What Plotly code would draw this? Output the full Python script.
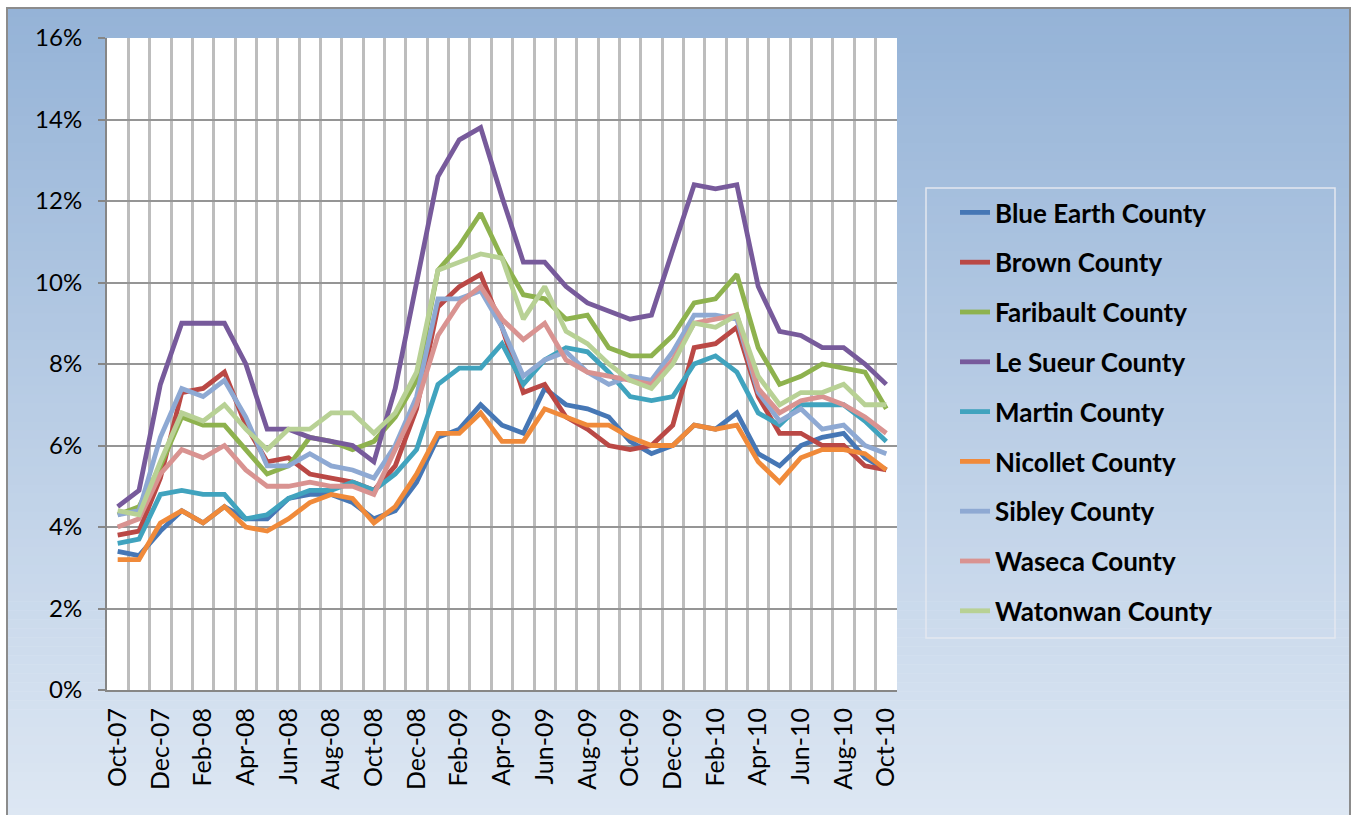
import plotly.graph_objects as go

# Monthly unemployment rate (%) by county, Oct 2007 - Oct 2010
months = [
    "Oct-07", "Nov-07", "Dec-07", "Jan-08", "Feb-08", "Mar-08", "Apr-08", "May-08", "Jun-08",
    "Jul-08", "Aug-08", "Sep-08", "Oct-08", "Nov-08", "Dec-08", "Jan-09", "Feb-09", "Mar-09",
    "Apr-09", "May-09", "Jun-09", "Jul-09", "Aug-09", "Sep-09", "Oct-09", "Nov-09", "Dec-09",
    "Jan-10", "Feb-10", "Mar-10", "Apr-10", "May-10", "Jun-10", "Jul-10", "Aug-10", "Sep-10",
    "Oct-10",
]

blue_earth = [3.4, 3.3, 3.9, 4.4, 4.1, 4.5, 4.2, 4.2, 4.7, 4.8, 4.8, 4.6, 4.2, 4.4, 5.1, 6.2, 6.4, 7.0, 6.5,
              6.3, 7.4, 7.0, 6.9, 6.7, 6.1, 5.8, 6.0, 6.5, 6.4, 6.8, 5.8, 5.5, 6.0, 6.2, 6.3, 5.7, 5.4]
brown = [3.8, 3.9, 5.2, 7.3, 7.4, 7.8, 6.5, 5.6, 5.7, 5.3, 5.2, 5.1, 4.9, 5.5, 6.9, 9.4, 9.9, 10.2, 8.9,
         7.3, 7.5, 6.7, 6.4, 6.0, 5.9, 6.0, 6.5, 8.4, 8.5, 8.9, 7.2, 6.3, 6.3, 6.0, 6.0, 5.5, 5.4]
faribault = [4.3, 4.5, 5.5, 6.7, 6.5, 6.5, 5.9, 5.3, 5.5, 6.2, 6.1, 5.9, 6.1, 6.7, 7.6, 10.3, 10.9, 11.7, 10.6,
             9.7, 9.6, 9.1, 9.2, 8.4, 8.2, 8.2, 8.7, 9.5, 9.6, 10.2, 8.4, 7.5, 7.7, 8.0, 7.9, 7.8, 6.9]
le_sueur = [4.5, 4.9, 7.5, 9.0, 9.0, 9.0, 8.0, 6.4, 6.4, 6.2, 6.1, 6.0, 5.6, 7.4, 10.0, 12.6, 13.5, 13.8, 12.1,
            10.5, 10.5, 9.9, 9.5, 9.3, 9.1, 9.2, 10.8, 12.4, 12.3, 12.4, 9.9, 8.8, 8.7, 8.4, 8.4, 8.0, 7.5]
martin = [3.6, 3.7, 4.8, 4.9, 4.8, 4.8, 4.2, 4.3, 4.7, 4.9, 4.9, 5.1, 4.9, 5.3, 5.9, 7.5, 7.9, 7.9, 8.5,
          7.5, 8.1, 8.4, 8.3, 7.8, 7.2, 7.1, 7.2, 8.0, 8.2, 7.8, 6.8, 6.5, 7.0, 7.0, 7.0, 6.6, 6.1]
nicollet = [3.2, 3.2, 4.1, 4.4, 4.1, 4.5, 4.0, 3.9, 4.2, 4.6, 4.8, 4.7, 4.1, 4.5, 5.3, 6.3, 6.3, 6.8, 6.1,
            6.1, 6.9, 6.7, 6.5, 6.5, 6.2, 6.0, 6.0, 6.5, 6.4, 6.5, 5.6, 5.1, 5.7, 5.9, 5.9, 5.8, 5.4]
sibley = [4.3, 4.4, 6.2, 7.4, 7.2, 7.6, 6.7, 5.5, 5.5, 5.8, 5.5, 5.4, 5.2, 6.0, 7.2, 9.6, 9.6, 9.8, 8.9,
          7.7, 8.1, 8.3, 7.8, 7.5, 7.7, 7.6, 8.3, 9.2, 9.2, 9.1, 7.3, 6.6, 6.9, 6.4, 6.5, 6.0, 5.8]
waseca = [4.0, 4.2, 5.3, 5.9, 5.7, 6.0, 5.4, 5.0, 5.0, 5.1, 5.0, 5.0, 4.8, 5.9, 7.0, 8.7, 9.5, 9.9, 9.1,
          8.6, 9.0, 8.1, 7.8, 7.7, 7.6, 7.5, 8.1, 9.0, 9.1, 9.2, 7.4, 6.8, 7.1, 7.2, 7.0, 6.7, 6.3]
watonwan = [4.4, 4.3, 5.6, 6.8, 6.6, 7.0, 6.4, 5.9, 6.4, 6.4, 6.8, 6.8, 6.3, 6.8, 7.8, 10.3, 10.5, 10.7, 10.6,
            9.1, 9.9, 8.8, 8.5, 8.0, 7.6, 7.4, 8.0, 9.0, 8.9, 9.2, 7.7, 7.0, 7.3, 7.3, 7.5, 7.0, 7.0]

county_names = [
    "Blue Earth County", "Brown County", "Faribault County", "Le Sueur County", "Martin County",
    "Nicollet County", "Sibley County", "Waseca County", "Watonwan County",
]
county_values = [blue_earth, brown, faribault, le_sueur, martin, nicollet, sibley, waseca, watonwan]
county_colors = [
    "#4677B5", "#BA4845", "#8EB24E", "#775A9B", "#40A3BE",
    "#F08A3A", "#8EA9D3", "#D99391", "#B8D195",
]

y_ticks = [0, 2, 4, 6, 8, 10, 12, 14, 16]
y_tick_labels = ["0%", "2%", "4%", "6%", "8%", "10%", "12%", "14%", "16%"]

# ---- page geometry (pixels) ----
W, H = 1352, 815
ML, MR, MT, MB = 107, 455, 38, 125
PW, PH = W - ML - MR, H - MT - MB


def px_x(p):
    return (p - ML) / PW


def px_y(p):
    return (H - MB - p) / PH


FONT = "Lato, 'Open Sans', sans-serif"
AXIS_GREY = "#868686"

idx = list(range(len(months)))

fig = go.Figure()
for name, vals, color in zip(county_names, county_values, county_colors):
    fig.add_trace(go.Scatter(
        x=idx, y=vals, mode="lines", name=name, legendgroup=name,
        line=dict(color=color, width=4.8),
        hovertemplate="%{text}: %{y:.1f}%<extra>" + name + "</extra>",
        text=months,
    ))

# background: vertical blue gradient inside a grey frame, white plot area
shapes = []
top_c = (0x95, 0xB3, 0xD7)
bot_c = (0xDD, 0xE7, 0xF3)
y0_px, y1_px = 8, 817
n_bands = 90
for k in range(n_bands):
    t = k / (n_bands - 1)
    c = tuple(round(a + (b - a) * t) for a, b in zip(top_c, bot_c))
    ya = y0_px + (y1_px - y0_px) * k / n_bands
    yb = y0_px + (y1_px - y0_px) * (k + 1) / n_bands + 0.6
    shapes.append(dict(
        type="rect", xref="paper", yref="paper", layer="below",
        x0=px_x(7), x1=px_x(1350), y0=px_y(ya), y1=px_y(yb),
        fillcolor="rgb(%d,%d,%d)" % c, line=dict(width=0),
    ))
shapes.append(dict(
    type="rect", xref="paper", yref="paper", layer="below",
    x0=px_x(7), x1=px_x(1350), y0=px_y(8), y1=px_y(818),
    fillcolor="rgba(0,0,0,0)", line=dict(color="#8c8c8c", width=2),
))
shapes.append(dict(
    type="rect", xref="paper", yref="paper", layer="below",
    x0=0, x1=1, y0=0, y1=1, fillcolor="white", line=dict(width=0),
))
# legend frame
shapes.append(dict(
    type="rect", xref="paper", yref="paper", layer="below",
    x0=px_x(926), x1=px_x(1335), y0=px_y(188), y1=px_y(638),
    fillcolor="rgba(0,0,0,0)", line=dict(color="#e3e8f0", width=1.5),
))

fig.update_layout(
    width=W, height=H, autosize=False,
    margin=dict(l=ML, r=MR, t=MT, b=MB, pad=0),
    paper_bgcolor="white", plot_bgcolor="white",
    font=dict(family=FONT, size=22, color="#000000"),
    showlegend=True,
    legend=dict(
        x=px_x(955), xanchor="left", y=px_y(189), yanchor="top",
        bgcolor="rgba(0,0,0,0)", borderwidth=0,
        font=dict(family=FONT, size=26, color="#000000", weight="bold"),
        tracegroupgap=13, traceorder="grouped",
    ),
    shapes=shapes,
    xaxis=dict(
        range=[-0.5, len(months) - 0.5],
        tickmode="array", tickvals=idx[::2], ticktext=months[::2],
        tickangle=-90, ticks="", showgrid=False, zeroline=False,
        showline=True, linecolor=AXIS_GREY, linewidth=2,
        tickfont=dict(family=FONT, size=25, color="#000000"),
        ticklabelstandoff=6,
        minor=dict(tickmode="linear", tick0=-0.5, dtick=1, showgrid=True,
                   gridcolor="#bdbdbd", gridwidth=2.5, ticks=""),
    ),
    xaxis2=dict(
        overlaying="x", matches="x", anchor="y", side="bottom",
        range=[-0.5, len(months) - 0.5],
        tickmode="linear", tick0=-0.5, dtick=2,
        ticks="outside", ticklen=8, tickwidth=2, tickcolor=AXIS_GREY,
        showticklabels=False, showgrid=False, zeroline=False, showline=False,
    ),
    yaxis=dict(
        range=[0, 16], tickmode="array", tickvals=y_ticks, ticktext=y_tick_labels,
        ticks="outside", ticklen=7, tickwidth=2, tickcolor=AXIS_GREY,
        showgrid=True, gridcolor="#959595", gridwidth=2,
        zeroline=False, showline=True, linecolor=AXIS_GREY, linewidth=2,
        tickfont=dict(family=FONT, size=24, color="#000000"),
        ticklabelstandoff=11,
    ),
)

fig.write_html("out.html")
